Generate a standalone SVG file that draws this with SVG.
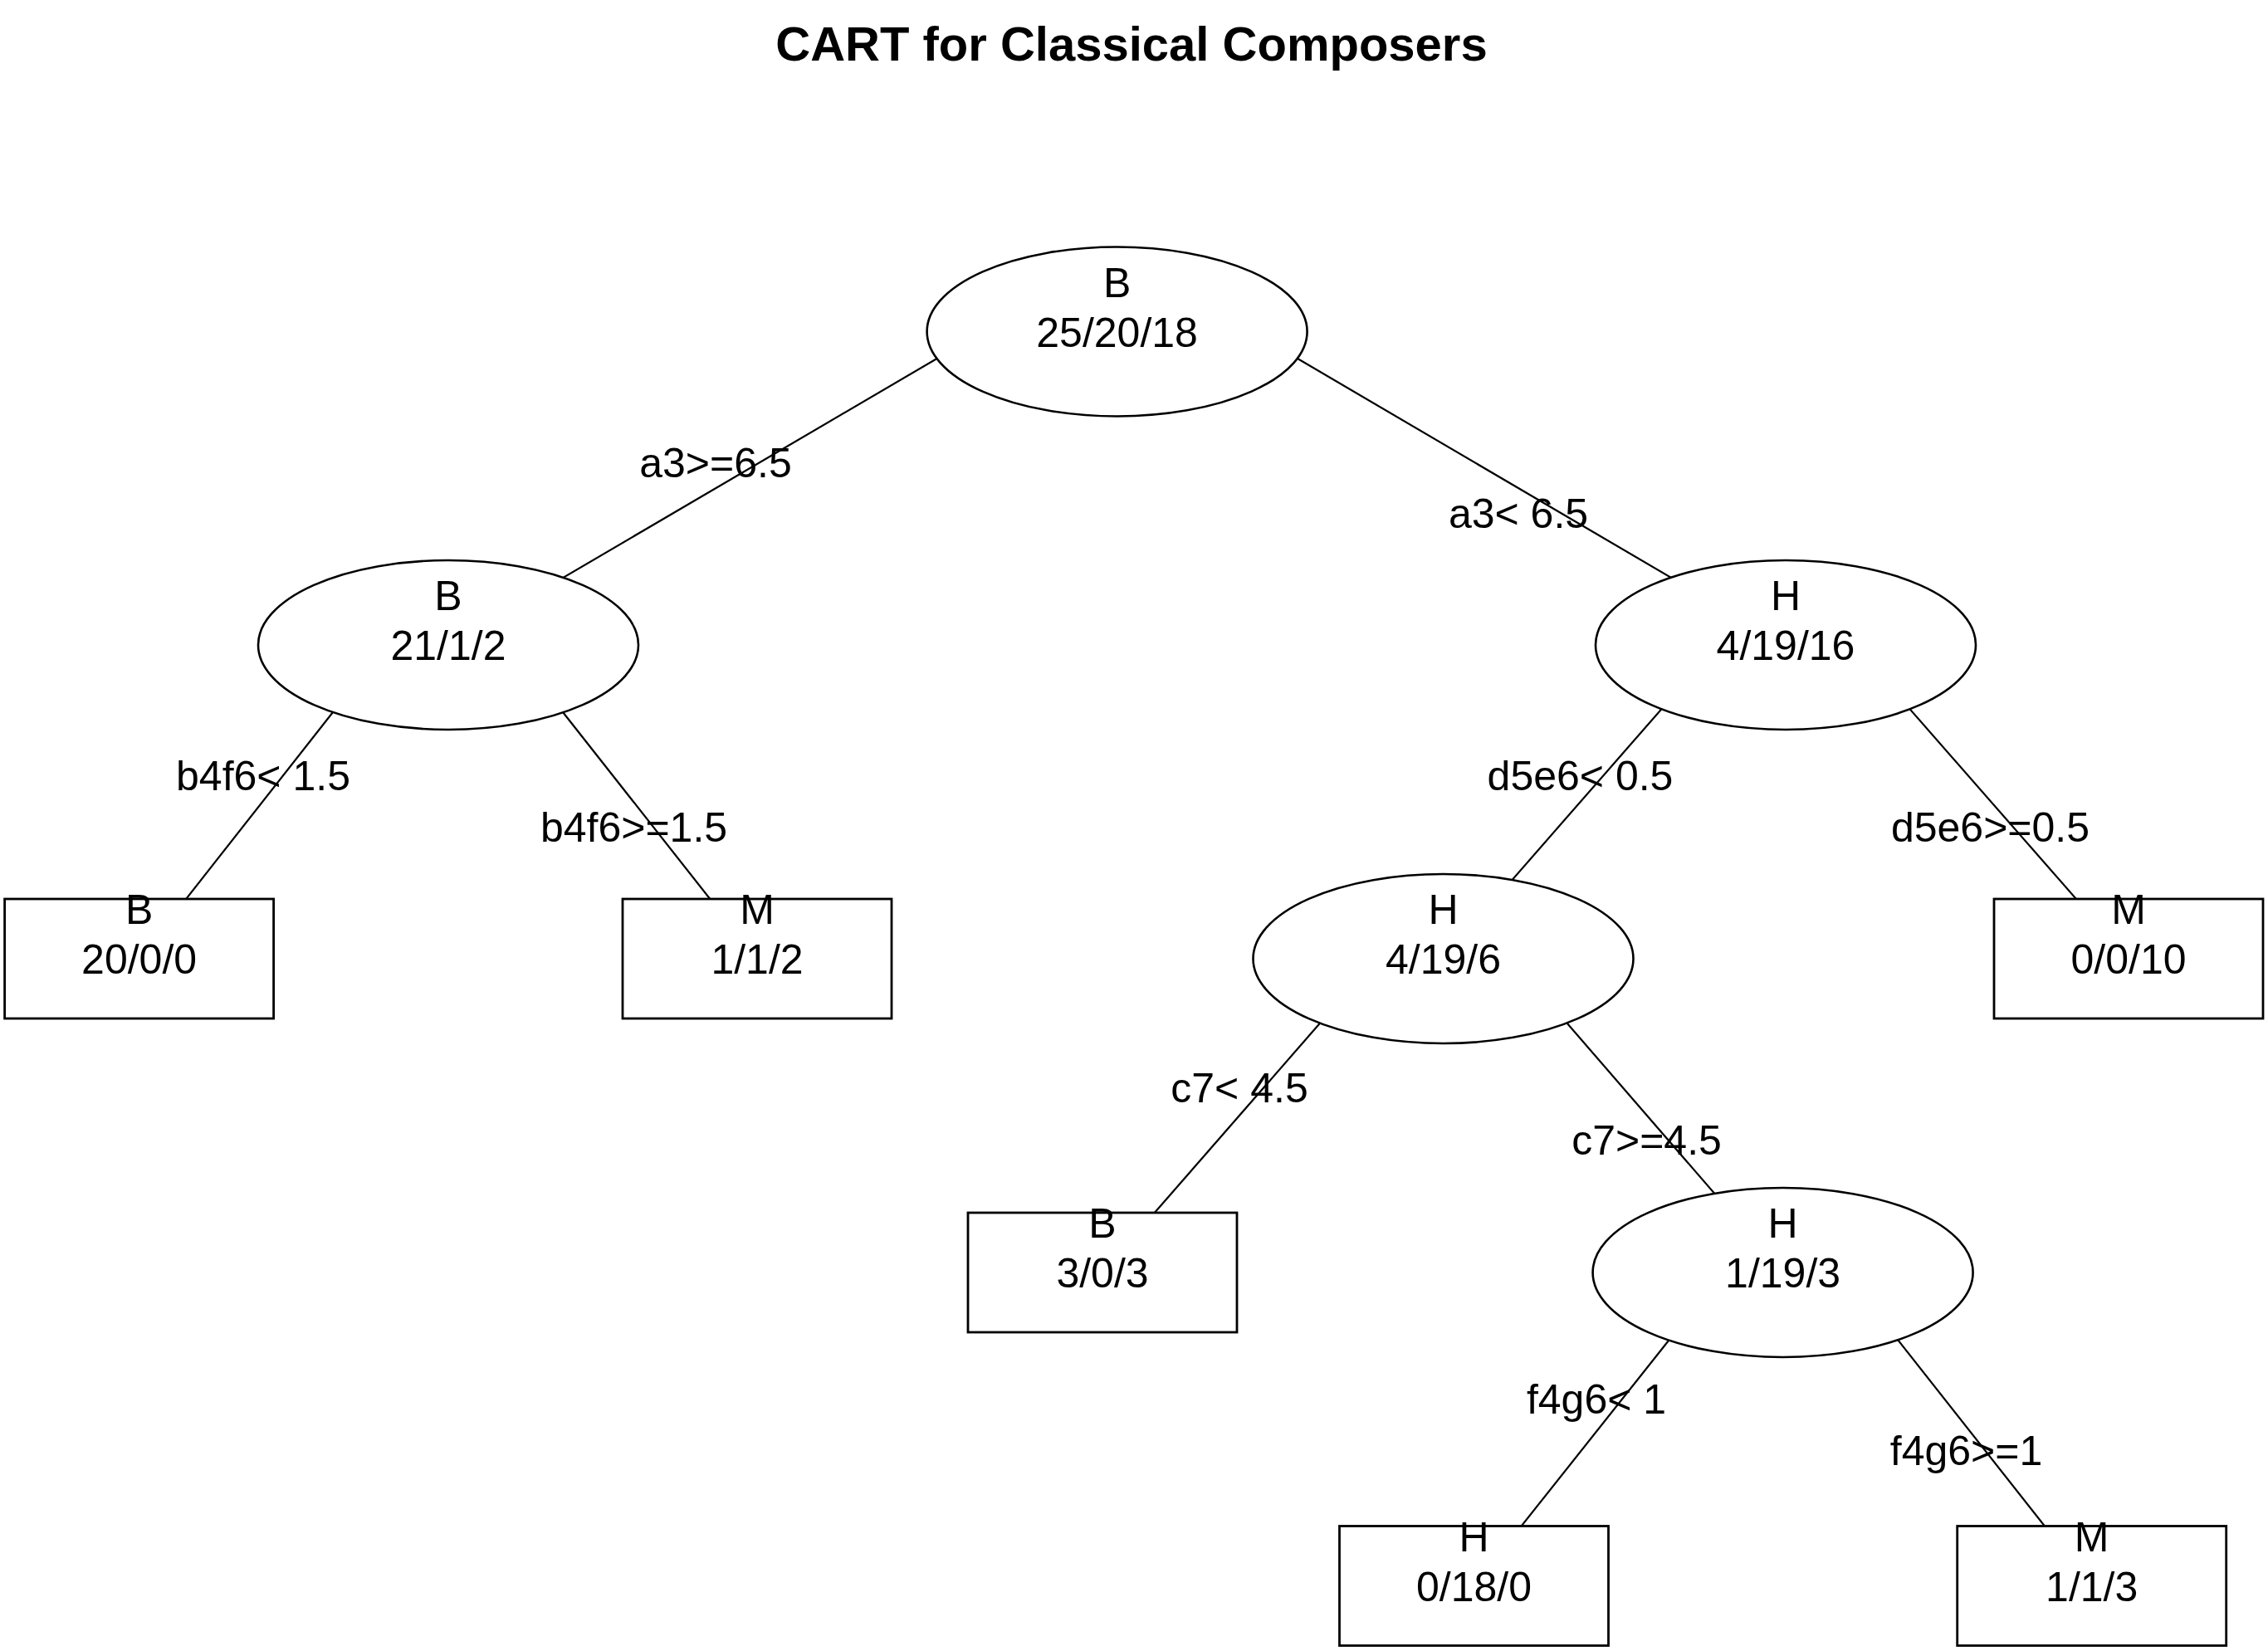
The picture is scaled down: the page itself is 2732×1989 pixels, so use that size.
<svg xmlns="http://www.w3.org/2000/svg" width="2732" height="1989" viewBox="0 0 2732 1989">
<style>
  text { font-family: "Liberation Sans", Arial, sans-serif; font-size: 50px; fill: #000; text-anchor: middle; }
  .title { font-size: 58px; font-weight: bold; }
  .edge { stroke: #000; stroke-width: 2.2; fill: none; }
  .ell { fill: #fff; stroke: #000; stroke-width: 2.6; }
  .leaf { fill: #fff; stroke: #000; stroke-width: 2.8; }
</style>
<rect x="0" y="0" width="2732" height="1989" fill="#fff"/>
<text class="title" x="1363" y="73">CART for Classical Composers</text>

<g id="connectors">
  <line class="edge" x1="1161" y1="413" x2="540" y2="777"/>
  <line class="edge" x1="1529" y1="412" x2="2151" y2="777"/>
  <line class="edge" x1="423" y1="830" x2="167.6" y2="1155"/>
  <line class="edge" x1="656" y1="830" x2="912" y2="1155"/>
  <line class="edge" x1="2027" y1="825" x2="1738.5" y2="1155"/>
  <line class="edge" x1="2275" y1="825" x2="2564" y2="1155"/>
  <line class="edge" x1="1615" y1="1204" x2="1328" y2="1533"/>
  <line class="edge" x1="1862" y1="1203" x2="2147.6" y2="1533"/>
  <line class="edge" x1="2033" y1="1586" x2="1775.5" y2="1910.5"/>
  <line class="edge" x1="2264" y1="1586" x2="2519.7" y2="1910.5"/>
</g>

<g id="node-root">
  <ellipse class="ell" cx="1345.6" cy="399.5" rx="229" ry="102"/>
  <text x="1345.6" y="357.5">B</text>
  <text x="1345.6" y="417.5">25/20/18</text>
</g>
<g id="node-2">
  <ellipse class="ell" cx="540" cy="777" rx="229" ry="102"/>
  <text x="540" y="735">B</text>
  <text x="540" y="795">21/1/2</text>
</g>
<g id="node-3">
  <ellipse class="ell" cx="2151" cy="777" rx="229" ry="102"/>
  <text x="2151" y="735">H</text>
  <text x="2151" y="795">4/19/16</text>
</g>
<g id="leaf-4">
  <rect class="leaf" x="5.6" y="1083" width="324" height="144"/>
  <text x="167.6" y="1113">B</text>
  <text x="167.6" y="1173">20/0/0</text>
</g>
<g id="leaf-5">
  <rect class="leaf" x="750" y="1083" width="324" height="144"/>
  <text x="912" y="1113">M</text>
  <text x="912" y="1173">1/1/2</text>
</g>
<g id="node-6">
  <ellipse class="ell" cx="1738.5" cy="1155" rx="229" ry="102"/>
  <text x="1738.5" y="1113">H</text>
  <text x="1738.5" y="1173">4/19/6</text>
</g>
<g id="leaf-7">
  <rect class="leaf" x="2402" y="1083" width="324" height="144"/>
  <text x="2564" y="1113">M</text>
  <text x="2564" y="1173">0/0/10</text>
</g>
<g id="leaf-12">
  <rect class="leaf" x="1166" y="1461" width="324" height="144"/>
  <text x="1328" y="1491">B</text>
  <text x="1328" y="1551">3/0/3</text>
</g>
<g id="node-13">
  <ellipse class="ell" cx="2147.6" cy="1533" rx="229" ry="102"/>
  <text x="2147.6" y="1491">H</text>
  <text x="2147.6" y="1551">1/19/3</text>
</g>
<g id="leaf-26">
  <rect class="leaf" x="1613.5" y="1838.5" width="324" height="144"/>
  <text x="1775.5" y="1868.5">H</text>
  <text x="1775.5" y="1928.5">0/18/0</text>
</g>
<g id="leaf-27">
  <rect class="leaf" x="2357.7" y="1838.5" width="324" height="144"/>
  <text x="2519.7" y="1868.5">M</text>
  <text x="2519.7" y="1928.5">1/1/3</text>
</g>

<g id="edge-labels">
  <text x="862" y="575">a3&gt;=6.5</text>
  <text x="1829" y="636">a3&lt; 6.5</text>
  <text x="317" y="952">b4f6&lt; 1.5</text>
  <text x="763.5" y="1014">b4f6&gt;=1.5</text>
  <text x="1903.5" y="952">d5e6&lt; 0.5</text>
  <text x="2397.5" y="1014">d5e6&gt;=0.5</text>
  <text x="1493" y="1328">c7&lt; 4.5</text>
  <text x="1983.5" y="1391">c7&gt;=4.5</text>
  <text x="1923" y="1703">f4g6&lt; 1</text>
  <text x="2368.5" y="1765">f4g6&gt;=1</text>
</g>
</svg>
